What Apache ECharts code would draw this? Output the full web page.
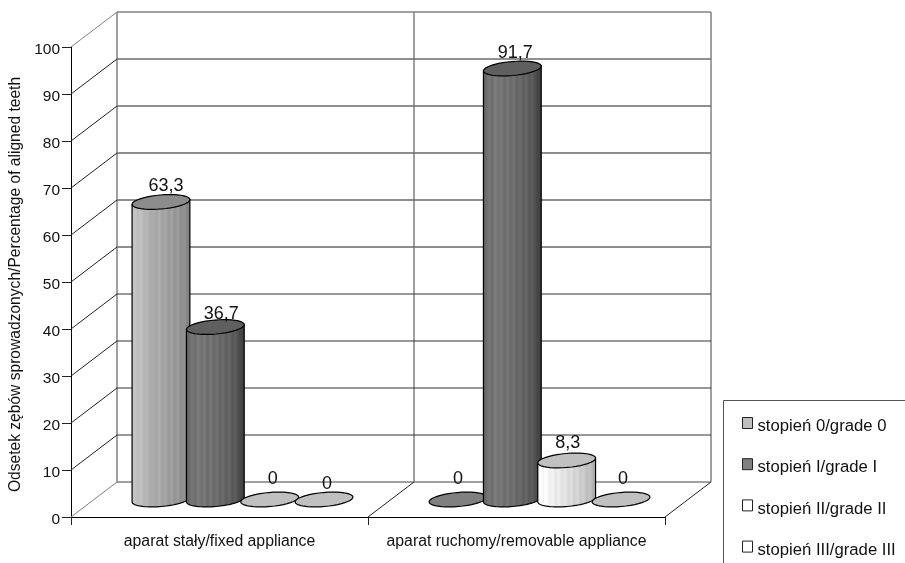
<!DOCTYPE html>
<html>
<head>
<meta charset="utf-8">
<style>
  html, body { margin: 0; padding: 0; background: #fff; }
  #chart { width: 905px; height: 563px; }
</style>
<script src="https://cdn.jsdelivr.net/npm/echarts@6/dist/echarts.min.js"></script>
</head>
<body>
<div id="chart"></div>
<script>
const categories = ['aparat stały/fixed appliance', 'aparat ruchomy/removable appliance']
const grades = ['stopień 0/grade 0', 'stopień I/grade I', 'stopień II/grade II', 'stopień III/grade III']
const grade0 = [63.3, 0]
const grade1 = [36.7, 91.7]
const grade2 = [0, 8.3]
const grade3 = [0, 0]
const gradeValues = [grade0, grade1, grade2, grade3]
const yTicks = [0, 10, 20, 30, 40, 50, 60, 70, 80, 90, 100]

// 3D look: how far the back wall sits from the front axes
const DEPTH_X = 46
const DEPTH_Y = -35
const SLOT = 0.183 // cylinder spacing, share of a category band
const RX = 29
const RY = 7
const TILT = 5 * Math.PI / 180

const FONT = '"Liberation Sans", Arial, sans-serif'
const swatchColors = ['#c0c0c0', '#808080', '#ffffff', '#ffffff']
const topColors = ['#8c8c8c', '#5f5f5f', '#c0c0c0', '#c0c0c0']
const zeroColors = ['#808080', '#808080', '#c0c0c0', '#c0c0c0']
// vertical streaks of the cylinder walls, left to right
const bodyStops = [
  ['#bdbdbd', '#c6c6c6', '#bcbcbc', '#c4c4c4', '#b4b4b4', '#b8b8b8', '#aaaaaa', '#aeaeae', '#a6a6a6', '#b0b0b0', '#a0a0a0', '#a8a8a8', '#989898', '#a4a4a4', '#929292', '#9e9e9e', '#8c8c8c', '#949494', '#848484', '#7c7c7c'],
  ['#5a5a5a', '#6a6a6a', '#787878', '#6c6c6c', '#7e7e7e', '#707070', '#7a7a7a', '#6a6a6a', '#787878', '#686868', '#747474', '#626262', '#6e6e6e', '#5c5c5c', '#686868', '#565656', '#5e5e5e', '#4c4c4c', '#444444', '#3a3a3a'],
  ['#f8f8f8', '#ffffff', '#f6f6f6', '#ffffff', '#eeeeee', '#f4f4f4', '#e6e6e6', '#f0f0f0', '#e0e0e0', '#e8e8e8', '#d8d8d8', '#e0e0e0', '#d0d0d0', '#d8d8d8', '#c8c8c8', '#cecece', '#bcbcbc', '#c4c4c4', '#b0b0b0', '#a8a8a8']
]
bodyStops.push(bodyStops[2])
// small label nudges [dx, dy] per grade and category
const labelNudge = [
  [[5, 2], [0, -2]],
  [[6, 5], [3, 3]],
  [[3, -2], [1, 1]],
  [[3, 3], [2, -2]]
]

function ellipsePoints(cx, cy, from, to) {
  const pts = []
  for (let i = 0; i <= 40; i++) {
    const t = from + (to - from) * i / 40
    const ex = RX * Math.cos(t)
    const ey = RY * Math.sin(t)
    pts.push([cx + ex * Math.cos(TILT) + ey * Math.sin(TILT), cy - ex * Math.sin(TILT) + ey * Math.cos(TILT)])
  }
  return pts
}

function bodyGradient(colors) {
  return new echarts.graphic.LinearGradient(0, 0, 1, 0,
    colors.map((color, i) => ({ offset: i / (colors.length - 1), color })))
}

function cylinderSeries(gradeIndex) {
  return {
    name: grades[gradeIndex],
    type: 'custom',
    silent: true,
    z: 3,
    itemStyle: { color: swatchColors[gradeIndex] },
    data: categories.map((c, i) => [i, gradeValues[gradeIndex][i]]),
    encode: { x: 0, y: 1 },
    renderItem(params, api) {
      const cat = api.value(0)
      const value = api.value(1)
      const top = api.coord([cat, value])
      const base = api.coord([cat, 0])
      const band = api.size([1, 0])[0]
      const cx = top[0] + (gradeIndex - 1.5) * SLOT * band + DEPTH_X / 2
      const topY = top[1] + DEPTH_Y / 2
      const baseY = base[1] + DEPTH_Y / 2
      const nudge = labelNudge[gradeIndex][cat]
      const children = []
      if (value > 0) {
        // side wall: across the top ellipse's widest line, back along the bottom of the base
        const lower = ellipsePoints(cx, baseY, 0, Math.PI)
        const points = [ellipsePoints(cx, topY, 0, 0)[0]].concat(lower)
        points.push(ellipsePoints(cx, topY, Math.PI, Math.PI)[0])
        children.push({
          type: 'polygon',
          shape: { points },
          style: { fill: bodyGradient(bodyStops[gradeIndex]), stroke: '#000', lineWidth: 1.2 }
        })
      }
      children.push({
        type: 'polygon',
        shape: { points: ellipsePoints(cx, topY, 0, Math.PI * 2) },
        style: { fill: value > 0 ? topColors[gradeIndex] : zeroColors[gradeIndex], stroke: '#000', lineWidth: 1.2 }
      })
      children.push({
        type: 'text',
        x: cx + nudge[0],
        y: topY - 18 + nudge[1],
        style: {
          text: String(value).replace('.', ','),
          font: '18px ' + FONT,
          fill: '#111',
          align: 'center',
          verticalAlign: 'middle'
        }
      })
      return { type: 'group', children }
    }
  }
}

const wallSeries = {
  name: 'walls',
  type: 'custom',
  silent: true,
  z: 1,
  data: yTicks.map(v => [0, v]),
  encode: { x: 0, y: 1 },
  renderItem(params, api) {
    const rect = params.coordSys
    const value = api.value(1)
    const y = api.coord([0, value])[1]
    const line = (x1, y1, x2, y2, stroke, lineWidth) => ({
      type: 'line',
      shape: { x1, y1, x2, y2 },
      style: { stroke, lineWidth }
    })
    const left = rect.x
    const right = rect.x + rect.width
    const mid = rect.x + rect.width / 2
    const isEdge = value === 0 || value === 100
    // the source scan renders the upper gridlines softer than the lower ones
    let wallStroke = value > 40 ? '#6a6a6a' : '#333333'
    let wallWidth = value > 40 ? 1.5 : 1
    if (isEdge) {
      wallStroke = '#808080'
      wallWidth = 1.5
    }
    const children = [
      line(left + DEPTH_X, y + DEPTH_Y, right + DEPTH_X, y + DEPTH_Y, wallStroke, wallWidth),
      line(left, y, left + DEPTH_X, y + DEPTH_Y, isEdge ? '#808080' : '#222', 1)
    ]
    if (value === 0) {
      // floor dividers and the vertical wall edges
      const wallTop = rect.y + DEPTH_Y
      const wallBottom = rect.y + rect.height + DEPTH_Y
      children.push(line(mid, y, mid + DEPTH_X, y + DEPTH_Y, '#222', 1))
      children.push(line(right, y, right + DEPTH_X, y + DEPTH_Y, '#222', 1))
      children.push(line(left + DEPTH_X, wallTop, left + DEPTH_X, wallBottom, '#808080', 1.5))
      children.push(line(mid + DEPTH_X, wallTop, mid + DEPTH_X, wallBottom, '#808080', 1.5))
      children.push(line(right + DEPTH_X, wallTop, right + DEPTH_X, wallBottom, '#808080', 1.5))
    }
    return { type: 'group', children }
  }
}

const chart = echarts.init(document.getElementById('chart'), null, { renderer: 'canvas' })

chart.setOption({
  animation: false,
  backgroundColor: '#ffffff',
  textStyle: { fontFamily: FONT },
  grid: { left: 71, right: 240, top: 47, bottom: 46, outerBoundsMode: 'none' },
  graphic: [{
    type: 'polyline',
    silent: true,
    shape: { points: [[723.5, 563], [723.5, 400.5], [905, 400.5]] },
    style: { stroke: '#555', fill: null, lineWidth: 1 }
  }],
  legend: {
    orient: 'vertical',
    left: 742,
    top: 417,
    padding: 0,
    itemWidth: 10,
    itemHeight: 11,
    itemGap: 23.2,
    selectedMode: false,
    icon: 'rect',
    formatter: '{t|{name}}',
    data: grades.map((name, i) => ({
      name,
      itemStyle: { color: swatchColors[i], borderColor: '#222', borderWidth: 1 }
    })),
    textStyle: {
      rich: { t: { fontSize: 16.7, color: '#111', fontFamily: FONT, padding: [7, 0, 0, 0] } }
    }
  },
  xAxis: {
    type: 'category',
    data: categories,
    axisLine: { lineStyle: { color: '#000', width: 1 } },
    axisTick: { show: true, length: 8, lineStyle: { color: '#222' } },
    axisLabel: { fontSize: 15.8, color: '#111', margin: 17, interval: 0, hideOverlap: false },
    splitLine: { show: false }
  },
  yAxis: {
    type: 'value',
    min: 0,
    max: 100,
    interval: 10,
    name: 'Odsetek zębów sprowadzonych/Percentage of aligned teeth',
    nameLocation: 'middle',
    nameGap: 42,
    nameTextStyle: { fontSize: 15.6, color: '#111', padding: [0, 0, 0, -5] },
    axisLine: { show: true, lineStyle: { color: '#000', width: 1 } },
    axisTick: { show: true, length: 9, lineStyle: { color: '#222' } },
    axisLabel: { fontSize: 15.5, color: '#111', margin: 11, verticalAlign: 'top', lineHeight: 5 },
    splitLine: { show: false }
  },
  series: [wallSeries].concat(grades.map((g, i) => cylinderSeries(i)))
})

window.addEventListener('resize', () => chart.resize())
</script>
</body>
</html>
